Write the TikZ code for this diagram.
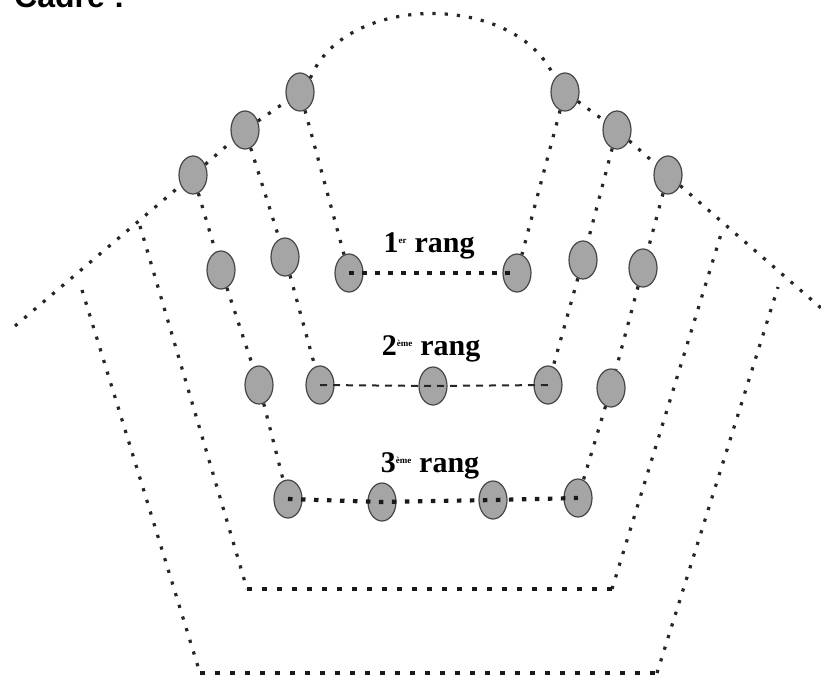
\documentclass[tikz,border=0pt]{standalone}
\usepackage{fontspec}
\setmainfont{Liberation Serif}
\newfontfamily\headfont{Liberation Sans}
\usetikzlibrary{shapes.geometric}
\definecolor{ballfill}{RGB}{165,165,165}
\definecolor{balldraw}{RGB}{70,70,70}
\tikzset{
  ball/.style={ellipse, draw=balldraw, line width=1.2pt, fill=ballfill, minimum width=28pt, minimum height=38pt, inner sep=0pt},
  thinline/.style={line width=3.2pt, dash pattern=on 3.2pt off 9pt, black!85},
  rowline/.style={line width=4.2pt, dash pattern=on 4.5pt off 8.5pt, black!90},
  midline/.style={line width=2pt, dash pattern=on 7pt off 6pt, black!85},
  baseline/.style={line width=4.4pt, dash pattern=on 5pt off 10pt, black!90},
  lab/.style={font=\fontsize{30}{30}\selectfont\bfseries}
}
\begin{document}
\begin{tikzpicture}[x=1pt,y=-1pt]
\useasboundingbox (0,0) rectangle (821,679);
\clip (0,0) rectangle (821,679);
% cut-off heading
\node[anchor=base west, inner sep=0pt, font=\headfont\fontsize{32}{32}\selectfont\bfseries] (head) at (14,8) {Cadre :};
% free corner points
\coordinate (p0) at (15,326);
\coordinate (p9) at (821,308);
\coordinate (o1) at (82,290);
\coordinate (o2) at (200,673);
\coordinate (o3) at (657,673);
\coordinate (o4) at (778,287);
\coordinate (i1) at (140,226);
\coordinate (i2) at (247,589);
\coordinate (i3) at (612,589);
\coordinate (i4) at (722,231);
% balls
\node[ball] (L1) at (193,175) {};
\node[ball] (L2) at (245,130) {};
\node[ball] (L3) at (300,92) {};
\node[ball] (R3) at (565,92) {};
\node[ball] (R2) at (617,130) {};
\node[ball] (R1) at (668,175) {};
\node[ball] (a1) at (221,270) {};
\node[ball] (a2) at (285,257) {};
\node[ball] (a3) at (349,273) {};
\node[ball] (a4) at (517,273) {};
\node[ball] (a5) at (583,260) {};
\node[ball] (a6) at (643,268) {};
\node[ball] (b1) at (259,385) {};
\node[ball] (b2) at (320,385) {};
\node[ball] (b3) at (433,386) {};
\node[ball] (b4) at (548,385) {};
\node[ball] (b5) at (611,388) {};
\node[ball] (c1) at (288,499) {};
\node[ball] (c2) at (382,502) {};
\node[ball] (c3) at (493,500) {};
\node[ball] (c4) at (578,498) {};
% roof
\draw[thinline] (p0) -- (L1) -- (L2) -- (L3);
\draw[thinline] (L3.north east) .. controls (345,-8) and (518,-8) .. (R3.north west);
\draw[thinline] (R3) -- (R2) -- (R1) -- (p9);
% boxes
\draw[thinline] (o1) -- (o2);
\draw[thinline] (o3) -- (o4);
\draw[baseline] (o2) -- (o3);
\draw[thinline] (i1) -- (i2);
\draw[thinline] (i3) -- (i4);
\draw[baseline] (i2) -- (i3);
% vertical chains
\draw[thinline] (L1) -- (a1) -- (b1) -- (c1);
\draw[thinline] (L2) -- (a2) -- (b2);
\draw[thinline] (L3) -- (a3);
\draw[thinline] (R3) -- (a4);
\draw[thinline] (R2) -- (a5) -- (b4);
\draw[thinline] (R1) -- (a6) -- (b5) -- (c4);
% rows
\draw[rowline] (a3.center) -- (a4.center);
\draw[midline] (b2.center) -- (b3.center) -- (b4.center);
\draw[rowline] (c1.center) -- (c2.center) -- (c3.center) -- (c4.center);
% labels
\node[lab] (t1) at (429,246) {1\textsuperscript{\fontsize{9}{9}\selectfont er} rang};
\node[lab] (t2) at (431,349) {2\textsuperscript{\fontsize{9}{9}\selectfont ème} rang};
\node[lab] (t3) at (430,466) {3\textsuperscript{\fontsize{9}{9}\selectfont ème} rang};
\end{tikzpicture}
\end{document}
